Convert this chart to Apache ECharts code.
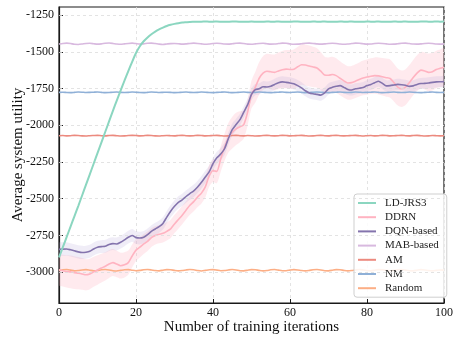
<!DOCTYPE html>
<html>
<head>
<meta charset="utf-8">
<script src="https://cdn.jsdelivr.net/npm/echarts@6/dist/echarts.min.js"></script>
<style>
  html, body { margin: 0; padding: 0; background: #fff; }
  #chart { width: 453px; height: 337px; }
</style>
</head>
<body>
<div id="chart"></div>
<script>
// Training iterations 0..100
const iterations = Array.from({ length: 101 }, (_, i) => i);

const seriesNames = ['LD-JRS3', 'DDRN', 'DQN-based', 'MAB-based', 'AM', 'NM', 'Random'];
const yTicks = [-3000, -2750, -2500, -2250, -2000, -1750, -1500, -1250];
const xTicks = [0, 20, 40, 60, 80, 100];

const ldJrs3 = [
  -2900,-2830,-2760,-2690,-2620,-2550,-2478,-2406,-2334,-2262,
  -2190,-2118,-2046,-1974,-1902,-1832,-1764,-1697,-1632,-1568,
  -1508,-1462,-1428,-1402,-1380,-1362,-1347,-1335,-1324,-1316,
  -1310,-1305,-1301,-1299,-1297,-1296,-1295,-1295,-1294,-1295,
  -1295,-1294,-1295,-1296,-1295,-1294,-1294,-1295,-1296,-1295,
  -1294,-1295,-1296,-1295,-1294,-1295,-1295,-1294,-1295,-1296,
  -1295,-1294,-1294,-1295,-1296,-1295,-1294,-1295,-1295,-1294,
  -1295,-1296,-1295,-1294,-1295,-1295,-1294,-1295,-1296,-1295,
  -1294,-1295,-1295,-1294,-1295,-1296,-1295,-1294,-1295,-1295,
  -1294,-1295,-1296,-1295,-1294,-1294,-1295,-1295,-1294,-1295,
  -1294
];

const ddrn = [
  -2984,-2990,-2995,-2998,-3003,-3007,-3012,-3018,-3012,-2998,
  -2985,-2972,-2960,-2945,-2935,-2945,-2956,-2950,-2935,-2890,
  -2850,-2830,-2808,-2790,-2765,-2750,-2742,-2736,-2722,-2705,
  -2672,-2642,-2612,-2578,-2545,-2520,-2488,-2462,-2420,-2345,
  -2310,-2314,-2230,-2150,-2085,-2050,-2025,-2010,-1995,-1910,
  -1790,-1740,-1680,-1645,-1632,-1636,-1640,-1630,-1622,-1618,
  -1620,-1618,-1602,-1588,-1590,-1597,-1603,-1610,-1632,-1658,
  -1660,-1654,-1662,-1680,-1698,-1712,-1710,-1700,-1688,-1678,
  -1672,-1666,-1662,-1664,-1670,-1676,-1682,-1710,-1740,-1752,
  -1740,-1710,-1675,-1645,-1625,-1630,-1640,-1635,-1620,-1612,
  -1605
];

const ddrnSpread = [
  105,108,110,112,112,110,108,106,104,102,
  100,98,96,94,92,90,88,86,82,78,
  74,70,68,66,64,62,62,62,62,62,
  62,62,62,62,64,66,68,70,72,74,
  76,80,86,92,100,108,110,105,95,90,
  95,105,110,115,118,120,122,125,128,130,
  132,134,136,138,140,140,138,135,130,125,
  122,120,118,116,115,114,114,115,116,118,
  120,122,124,126,128,130,130,128,126,124,
  122,120,120,122,124,126,128,128,128,128,
  128
];

const dqn = [
  -2845,-2843,-2842,-2848,-2855,-2862,-2866,-2864,-2858,-2842,
  -2830,-2826,-2824,-2812,-2806,-2808,-2796,-2780,-2762,-2750,
  -2765,-2768,-2762,-2745,-2722,-2706,-2690,-2668,-2625,-2585,
  -2552,-2525,-2508,-2485,-2465,-2446,-2420,-2388,-2352,-2318,
  -2262,-2222,-2196,-2160,-2090,-2030,-1995,-1962,-1910,-1860,
  -1790,-1758,-1752,-1738,-1740,-1735,-1722,-1710,-1705,-1708,
  -1712,-1718,-1730,-1745,-1765,-1780,-1786,-1790,-1795,-1780,
  -1752,-1742,-1735,-1730,-1742,-1756,-1760,-1752,-1748,-1743,
  -1730,-1722,-1710,-1700,-1715,-1732,-1730,-1726,-1722,-1724,
  -1728,-1735,-1732,-1722,-1716,-1715,-1712,-1708,-1705,-1704,
  -1703
];

const dqnSpread = [
  46,46,46,45,45,45,45,44,44,44,
  44,44,44,44,44,44,43,43,43,43,
  43,43,42,42,42,42,42,42,42,42,
  42,42,42,42,42,42,42,42,42,42,
  42,42,42,42,42,42,40,40,40,40,
  40,38,38,38,38,38,38,38,38,38,
  38,38,38,38,38,38,38,38,38,38,
  38,38,38,38,38,38,38,38,38,38,
  38,38,38,38,38,38,38,38,38,38,
  38,38,38,38,38,38,38,38,38,38,
  38
];

const mab = [
  -1447,-1443,-1441,-1444,-1449,-1450,-1447,-1443,-1442,-1445,
  -1448,-1446,-1442,-1440,-1443,-1447,-1449,-1446,-1443,-1441,
  -1444,-1447,-1446,-1442,-1441,-1444,-1448,-1450,-1447,-1444,
  -1443,-1445,-1448,-1446,-1443,-1441,-1443,-1446,-1449,-1447,
  -1444,-1442,-1444,-1447,-1448,-1445,-1442,-1441,-1444,-1448,
  -1449,-1446,-1443,-1442,-1445,-1448,-1447,-1444,-1441,-1442,
  -1446,-1449,-1448,-1445,-1442,-1441,-1443,-1446,-1448,-1446,
  -1443,-1442,-1444,-1447,-1449,-1447,-1444,-1441,-1442,-1445,
  -1448,-1447,-1444,-1442,-1443,-1446,-1449,-1448,-1445,-1442,
  -1441,-1444,-1447,-1448,-1446,-1443,-1442,-1444,-1447,-1448,
  -1446
];

const am = [
  -2071,-2070,-2072,-2071,-2069,-2070,-2072,-2073,-2071,-2070,
  -2069,-2071,-2072,-2070,-2069,-2071,-2073,-2072,-2070,-2069,
  -2070,-2072,-2071,-2069,-2070,-2072,-2073,-2071,-2070,-2071,
  -2072,-2070,-2069,-2071,-2072,-2071,-2069,-2070,-2072,-2071,
  -2070,-2069,-2071,-2073,-2072,-2070,-2069,-2071,-2072,-2070,
  -2071,-2073,-2072,-2070,-2069,-2071,-2072,-2071,-2069,-2070,
  -2072,-2071,-2070,-2069,-2071,-2073,-2072,-2070,-2069,-2071,
  -2072,-2070,-2069,-2071,-2072,-2071,-2070,-2069,-2071,-2073,
  -2071,-2070,-2072,-2071,-2069,-2070,-2072,-2071,-2070,-2069,
  -2071,-2072,-2070,-2069,-2071,-2073,-2072,-2070,-2071,-2072,
  -2071
];

const nm = [
  -1776,-1775,-1777,-1778,-1776,-1774,-1775,-1777,-1776,-1775,
  -1774,-1776,-1778,-1777,-1775,-1774,-1776,-1777,-1776,-1774,
  -1775,-1777,-1778,-1776,-1774,-1775,-1777,-1776,-1775,-1776,
  -1778,-1777,-1775,-1774,-1776,-1777,-1776,-1774,-1775,-1777,
  -1778,-1776,-1775,-1774,-1776,-1778,-1777,-1775,-1774,-1776,
  -1777,-1776,-1774,-1775,-1777,-1778,-1776,-1775,-1774,-1776,
  -1777,-1775,-1774,-1776,-1778,-1777,-1775,-1774,-1775,-1777,
  -1778,-1776,-1775,-1774,-1776,-1777,-1776,-1774,-1775,-1777,
  -1776,-1775,-1774,-1776,-1778,-1777,-1775,-1774,-1776,-1777,
  -1776,-1774,-1775,-1777,-1778,-1776,-1775,-1774,-1776,-1777,
  -1776
];

const randomPolicy = [
  -2988,-2984,-2982,-2986,-2991,-2989,-2985,-2983,-2987,-2991,
  -2989,-2984,-2982,-2985,-2990,-2992,-2988,-2984,-2983,-2987,
  -2990,-2988,-2984,-2982,-2985,-2989,-2991,-2987,-2983,-2984,
  -2988,-2991,-2989,-2985,-2982,-2984,-2989,-2992,-2988,-2984,
  -2983,-2986,-2990,-2989,-2985,-2982,-2985,-2990,-2991,-2987,
  -2983,-2984,-2988,-2991,-2989,-2984,-2982,-2986,-2990,-2990,
  -2986,-2983,-2985,-2989,-2991,-2988,-2984,-2982,-2985,-2990,
  -2991,-2987,-2983,-2984,-2988,-2991,-2989,-2985,-2982,-2985,
  -2989,-2991,-2987,-2983,-2984,-2988,-2990,-2988,-2984,-2982,
  -2986,-2990,-2991,-2987,-2983,-2985,-2989,-2991,-2988,-2985,
  -2986
];

const colors = {
  'LD-JRS3': '#8bd6c0',
  'DDRN': '#ffb3c1',
  'DQN-based': '#8474ad',
  'MAB-based': '#d8b9df',
  'AM': '#ec8a7f',
  'NM': '#8fb0d7',
  'Random': '#fcae85'
};

const serif = 'Liberation Serif, Times New Roman, serif';

function pairs(values) {
  return iterations.map((x, i) => [x, values[i]]);
}

function lineSeries(name, values, width, z) {
  return {
    name: name,
    type: 'line',
    data: pairs(values),
    showSymbol: false,
    symbol: 'none',
    smooth: 0.2,
    z: z,
    lineStyle: { color: colors[name], width: width },
    itemStyle: { color: colors[name] },
    emphasis: { disabled: true }
  };
}

// Shaded mean ± spread envelope, built as one polygon in data coordinates
function bandSeries(values, spread, fill, opacity) {
  return {
    type: 'custom',
    silent: true,
    clip: true,
    z: 1,
    data: [[0, values[0]]],
    renderItem: function (params, api) {
      const pts = [];
      for (let i = 0; i < iterations.length; i++) {
        pts.push(api.coord([iterations[i], values[i] + spread[i]]));
      }
      for (let i = iterations.length - 1; i >= 0; i--) {
        pts.push(api.coord([iterations[i], values[i] - spread[i]]));
      }
      return {
        type: 'polygon',
        shape: { points: pts, smooth: 0.3 },
        style: { fill: fill, opacity: opacity, stroke: null }
      };
    }
  };
}

const chart = echarts.init(document.getElementById('chart'), null, { renderer: 'canvas' });

chart.setOption({
  animation: false,
  backgroundColor: '#ffffff',
  grid: {
    left: 59, right: 9, top: 7, bottom: 34,
    outerBoundsMode: 'none',
    containLabel: false,
    show: true, borderColor: '#1a1a1a', borderWidth: 1.2, backgroundColor: 'transparent'
  },
  legend: {
    data: seriesNames,
    left: 354, top: 194,
    orient: 'vertical',
    icon: 'rect',
    itemWidth: 18, itemHeight: 2,
    itemGap: 2.2,
    padding: [3, 4, 3, 4],
    backgroundColor: 'rgba(255,255,255,0.85)',
    borderColor: '#cfcfcf', borderWidth: 1, borderRadius: 3,
    textStyle: {
      fontFamily: serif, fontSize: 11, color: '#222', lineHeight: 12,
      padding: [0, 4, 0, 4]
    }
  },
  xAxis: {
    type: 'value',
    min: 0, max: 100, interval: 20,
    name: 'Number of training iterations',
    nameLocation: 'middle',
    nameGap: 17,
    nameMoveOverlap: false,
    nameTextStyle: { fontFamily: serif, fontSize: 15, color: '#111' },
    axisLine: { show: true, lineStyle: { color: '#1a1a1a', width: 1.2 } },
    axisTick: { show: true, inside: true, length: 4, lineStyle: { color: '#1a1a1a' } },
    axisLabel: {
      fontFamily: serif, fontSize: 12, color: '#111', margin: 4,
      customValues: xTicks, formatter: v => String(v)
    },
    splitLine: { show: true, lineStyle: { color: '#dcdcdc', type: [3, 3], width: 0.8 } }
  },
  yAxis: {
    type: 'value',
    min: -3210, max: -1195,
    name: 'Average system utility',
    nameLocation: 'middle',
    nameGap: 33,
    nameMoveOverlap: false,
    nameTextStyle: { fontFamily: serif, fontSize: 15, color: '#111' },
    axisLine: { show: true, lineStyle: { color: '#1a1a1a', width: 1.2 } },
    axisTick: { show: true, inside: true, length: 4, customValues: yTicks, lineStyle: { color: '#1a1a1a' } },
    axisLabel: {
      fontFamily: serif, fontSize: 12, color: '#111', margin: 5,
      customValues: yTicks, formatter: v => String(v)
    },
    splitLine: { show: false }
  },
  series: [
    bandSeries(ddrn, ddrnSpread, '#ffb3c1', 0.28),
    bandSeries(dqn, dqnSpread, '#b9acdc', 0.22),
    // horizontal dashed grid at the labelled utility levels
    {
      type: 'line', data: [], silent: true, z: 0,
      markLine: {
        silent: true, symbol: 'none', label: { show: false },
        lineStyle: { color: '#dcdcdc', type: [3, 3], width: 0.8 },
        data: yTicks.map(v => ({ yAxis: v }))
      }
    },
    lineSeries('Random', randomPolicy, 1.6, 3),
    lineSeries('NM', nm, 1.6, 3),
    lineSeries('AM', am, 1.6, 3),
    lineSeries('MAB-based', mab, 1.6, 3),
    lineSeries('DDRN', ddrn, 1.6, 4),
    lineSeries('DQN-based', dqn, 1.6, 5),
    lineSeries('LD-JRS3', ldJrs3, 2, 6)
  ]
});
</script>
</body>
</html>
